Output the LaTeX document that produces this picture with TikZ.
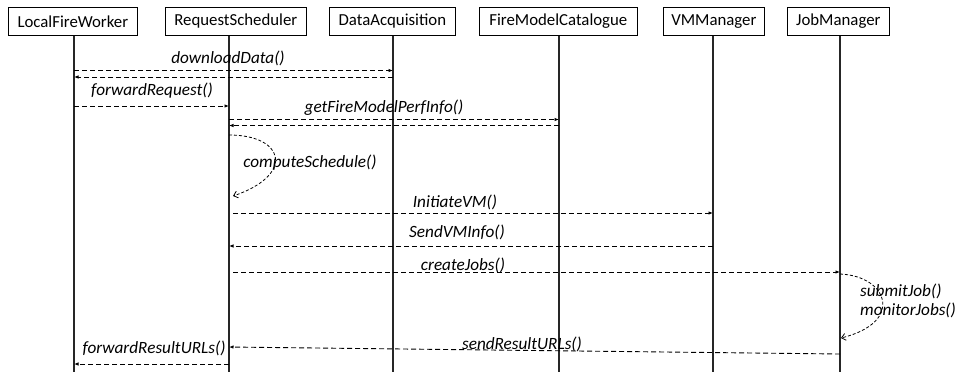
\documentclass[tikz,border=0pt]{standalone}
\usepackage{fontspec}
\setmainfont{Carlito}
\usetikzlibrary{arrows.meta}
\begin{document}
\begin{tikzpicture}[x=1pt,y=-1pt,
  actor/.style={draw=black,line width=0.7pt,minimum height=28pt,inner sep=0pt,font=\fontsize{16.8}{19}\selectfont,anchor=north west},
  lifeline/.style={draw=black!85,line width=1.1pt},
  msg/.style={draw=black,line width=0.9pt,dash pattern=on 5pt off 3pt,-{Latex[length=4.5pt,width=3.5pt]}},
  selfmsg/.style={draw=black,line width=0.8pt,dash pattern=on 3pt off 2pt,-{Straight Barb[length=4pt,width=7pt]}},
  lbl/.style={font=\fontsize{17.2}{19}\selectfont\itshape,inner sep=0pt}]
\useasboundingbox (0,0) rectangle (956,376);
% actors
\node[actor,minimum width=129pt] (lfw) at (8,7) {LocalFireWorker};
\node[actor,minimum width=141pt] (rs) at (165,7) {RequestScheduler};
\node[actor,minimum width=126pt] (da) at (329,7) {DataAcquisition};
\node[actor,minimum width=158pt] (fmc) at (479,7) {FireModelCatalogue};
\node[actor,minimum width=101pt] (vm) at (663,7) {VMManager};
\node[actor,minimum width=102pt] (jm) at (787,7) {JobManager};
% lifeline x positions
\coordinate (L) at (74,0);
\coordinate (R) at (229,0);
\coordinate (D) at (393,0);
\coordinate (F) at (559,0);
\coordinate (V) at (713,0);
\coordinate (J) at (840,0);
\foreach \c/\n in {L/lfw,R/rs,D/da,F/fmc,V/vm,J/jm}
  \draw[lifeline] (\c |- \n.south) -- (\c |- 0,372);
% downloadData
\node[lbl] (t1) at (228,58) {downloadData()};
\draw[msg] (L |- 0,70.5) -- (D |- 0,70.5);
\draw[msg] (D |- 0,77) -- (L |- 0,77);
% forwardRequest
\node[lbl] (t2) at (152,91) {forwardRequest()};
\draw[msg] (L |- 0,106) -- (R |- 0,106);
% getFireModelPerfInfo
\node[lbl] (t3) at (384,108) {getFireModelPerfInfo()};
\draw[msg] (R |- 0,119.5) -- (F |- 0,119.5);
\draw[msg] (F |- 0,125.5) -- (R |- 0,125.5);
% computeSchedule
\coordinate (cs1) at (229,135);
\coordinate (cs2) at (233,196);
\draw[selfmsg] (cs1) .. controls (285,135) and (295,175) .. (cs2);
\node[lbl] (t4) at (310,163) {computeSchedule()};
% InitiateVM
\node[lbl] (t5) at (455,202) {InitiateVM()};
\draw[msg] ([xshift=4pt]R |- 0,213) -- (V |- 0,213);
% SendVMInfo
\node[lbl] (t6) at (457,232) {SendVMInfo()};
\draw[msg] (V |- 0,246) -- (R |- 0,246);
% createJobs
\node[lbl] (t7) at (463,265) {createJobs()};
\draw[msg] ([xshift=4pt]R |- 0,272) -- (J |- 0,272);
% submitJob / monitorJobs
\coordinate (jm1) at (840,274);
\coordinate (jm2) at (841,338);
\draw[selfmsg] (jm1) .. controls (888,276) and (905,322) .. (jm2);
\node[lbl,anchor=west] (t8) at (860,291) {submitJob()};
\node[lbl,anchor=west] (t9) at (860,310) {monitorJobs()};
% sendResultURLs
\node[lbl] (t10) at (522,344) {sendResultURLs()};
\draw[msg] (J |- 0,354) -- (R |- 0,347);
% forwardResultURLs
\node[lbl] (t11) at (154,348) {forwardResultURLs()};
\draw[msg] (R |- 0,364) -- (L |- 0,364);
\end{tikzpicture}
\end{document}
